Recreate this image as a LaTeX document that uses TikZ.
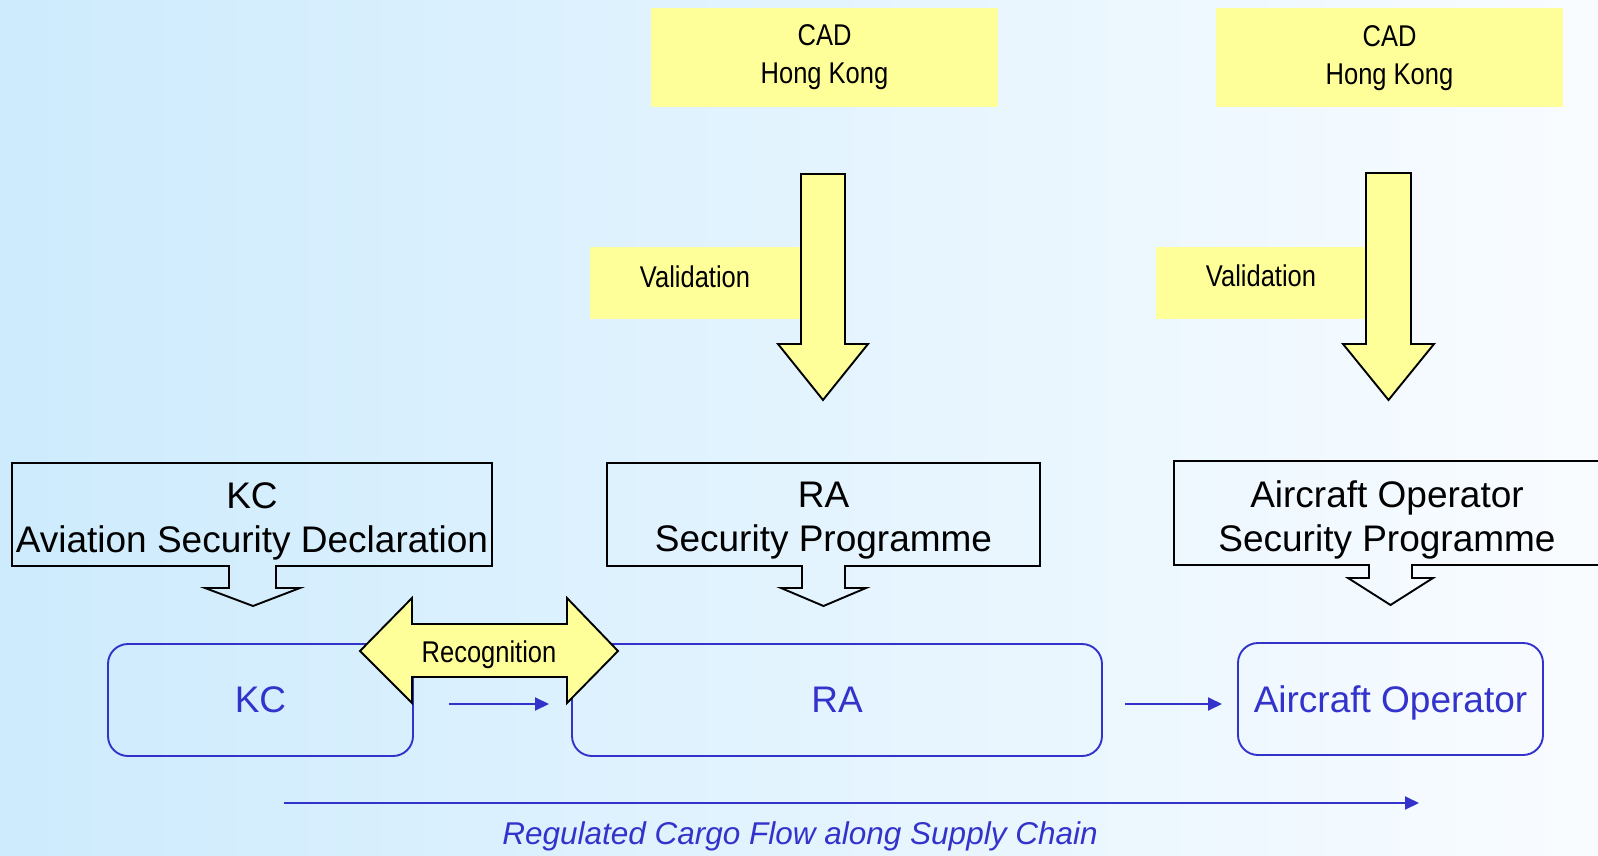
\documentclass[tikz,border=0pt]{standalone}
\usepackage{fontspec}
\setmainfont{Liberation Sans}
\newfontfamily\narrowfont{Liberation Sans}[FakeStretch=0.85]
\usepackage{tikz}
\usetikzlibrary{arrows.meta,shapes}
\usepackage{xcolor}
\definecolor{yel}{RGB}{255,255,153}
\definecolor{blu}{RGB}{51,51,204}
\definecolor{bgl}{RGB}{205,235,253}
\definecolor{bgr}{RGB}{249,252,255}

\begin{document}
\begin{tikzpicture}[-, x=1pt, y=-1pt, cad node/.style={fill=yel, minimum width=347pt, minimum height=99pt, align=center, font=\narrowfont\fontsize{30}{38}\selectfont}, val node/.style={fill=yel, minimum width=210pt, minimum height=72pt, text depth=13pt, font=\narrowfont\fontsize{30}{36}\selectfont}, block/.style={fill=yel, draw=black, line width=1.9pt, line join=miter}, callout/.style={draw=black, line width=1.9pt}, decl node/.style={align=center, font=\fontsize{37}{44}\selectfont}, party node/.style={draw=blu, line width=1.9pt, rounded corners=20pt, minimum height=112pt, text=blu, text depth=0pt, font=\fontsize{37}{44}\selectfont}, flow/.style={color=blu, line width=1.9pt, -{Triangle[length=14pt,width=13pt]}}]
\clip (0,0) rectangle (1598,856);
\shade[left color=bgl, right color=bgr] (0,0) rectangle (1598,856);
\node[cad node] (cad1) at (824.5,57.5) {CAD\\Hong Kong};
\node[cad node] (cad2) at (1389.5,58) {CAD\\Hong Kong};
\node[val node] (val1) at (695,283) {Validation};
\node[val node] (val2) at (1261,282.5) {Validation};
\draw[block] (801,174) -- (845,174) -- (845,344) -- (868,344) -- (823,400) -- (778,344) -- (801,344) -- cycle;
\draw[block] (1366,173) -- (1411,173) -- (1411,344) -- (1434,344) -- (1388.5,400) -- (1343,344) -- (1366,344) -- cycle;
\draw[callout] (12,463) -- (492,463) -- (492,566) -- (276,566) -- (276,588) -- (300,588) -- (253,606) -- (205,588) -- (229,588) -- (229,566) -- (12,566) -- cycle;
\draw[callout] (607,463) -- (1040,463) -- (1040,566) -- (845,566) -- (845,588) -- (866,588) -- (823.5,606) -- (781,588) -- (802,588) -- (802,566) -- (607,566) -- cycle;
\draw[callout] (1174,461) -- (1606,461) -- (1606,565) -- (1412,565) -- (1412,578) -- (1433,578) -- (1390.5,605) -- (1348,578) -- (1369,578) -- (1369,565) -- (1174,565) -- cycle;
\node[decl node] (kcdecl) at (252,521) {KC\\Aviation Security Declaration};
\node[decl node] (radecl) at (823.5,521) {RA\\Security Programme};
\node[decl node] (aodecl) at (1387,520) {Aircraft Operator\\Security Programme};
\node[party node, minimum width=305pt] (kc) at (260.5,700) {KC};
\node[party node, minimum width=530pt] (ra) at (837,700) {RA};
\node[party node, minimum width=305pt] (ao) at (1390.5,699) {Aircraft Operator};
\draw[block] (360,651) -- (412,598) -- (412,624) -- (567,624) -- (567,598) -- (618,651) -- (567,703) -- (567,677) -- (412,677) -- (412,703) -- cycle;
\node[font=\narrowfont\fontsize{30}{36}\selectfont] (recog) at (489,655) {Recognition};
\coordinate (kcout) at (449,704);
\coordinate (rain) at (549,704);
\coordinate (raout) at (1125,704);
\coordinate (aoin) at (1222,704);
\coordinate (flowa) at (284,803);
\coordinate (flowb) at (1419,803);
\path[flow]
(kcout) edge (rain)
(raout) edge (aoin)
(flowa) edge (flowb);
\node[anchor=base, text=blu, font=\itshape\fontsize{31.5}{36}\selectfont] (chain) at (800,844) {Regulated Cargo Flow along Supply Chain};
\end{tikzpicture}
\end{document}
